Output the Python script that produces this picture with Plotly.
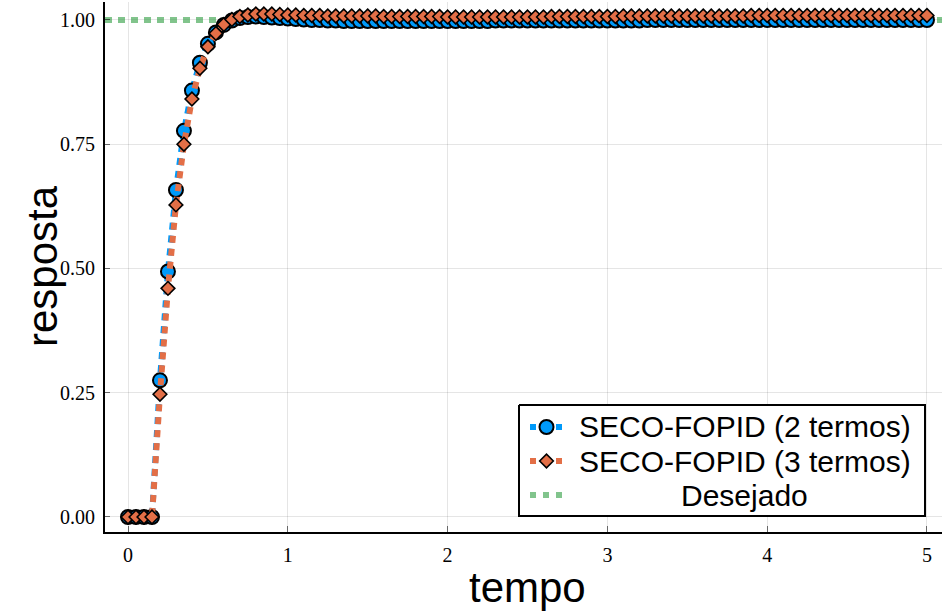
import plotly.graph_objects as go

# Sampling instants (s)
tempo = [
    0.00, 0.05, 0.10, 0.15, 0.20, 0.25, 0.30, 0.35, 0.40, 0.45,
    0.50, 0.55, 0.60, 0.65, 0.70, 0.75, 0.80, 0.85, 0.90, 0.95,
    1.00, 1.05, 1.10, 1.15, 1.20, 1.25, 1.30, 1.35, 1.40, 1.45,
    1.50, 1.55, 1.60, 1.65, 1.70, 1.75, 1.80, 1.85, 1.90, 1.95,
    2.00, 2.05, 2.10, 2.15, 2.20, 2.25, 2.30, 2.35, 2.40, 2.45,
    2.50, 2.55, 2.60, 2.65, 2.70, 2.75, 2.80, 2.85, 2.90, 2.95,
    3.00, 3.05, 3.10, 3.15, 3.20, 3.25, 3.30, 3.35, 3.40, 3.45,
    3.50, 3.55, 3.60, 3.65, 3.70, 3.75, 3.80, 3.85, 3.90, 3.95,
    4.00, 4.05, 4.10, 4.15, 4.20, 4.25, 4.30, 4.35, 4.40, 4.45,
    4.50, 4.55, 4.60, 4.65, 4.70, 4.75, 4.80, 4.85, 4.90, 4.95,
    5.00,
]

# Closed-loop step response, FOPID approximated with 2 terms
resp_2termos = [
    0.000, 0.000, 0.000, 0.000, 0.275, 0.494, 0.658, 0.777, 0.858, 0.914,
    0.952, 0.975, 0.990, 0.999, 1.004, 1.006, 1.007, 1.006, 1.005, 1.004,
    1.003, 1.002, 1.001, 1.000, 1.000, 0.999, 0.999, 0.998, 0.998, 0.998,
    0.998, 0.998, 0.998, 0.998, 0.998, 0.998, 0.998, 0.998, 0.998, 0.998,
    0.998, 0.998, 0.998, 0.998, 0.998, 0.998, 0.999, 0.999, 0.999, 0.999,
    0.999, 0.999, 0.999, 0.999, 0.999, 0.999, 0.999, 0.999, 0.999, 0.999,
    0.999, 0.999, 0.999, 0.999, 0.999, 1.000, 1.000, 1.000, 1.000, 1.000,
    1.000, 1.000, 1.000, 1.000, 1.000, 1.000, 1.000, 1.000, 1.000, 1.000,
    1.000, 1.000, 1.000, 1.000, 1.000, 1.000, 1.000, 1.000, 1.000, 1.000,
    1.000, 1.000, 1.000, 1.000, 1.000, 1.000, 1.000, 1.000, 1.000, 1.000,
    1.000,
]

# Closed-loop step response, FOPID approximated with 3 terms
resp_3termos = [
    0.000, 0.000, 0.000, 0.000, 0.247, 0.460, 0.628, 0.750, 0.841, 0.903,
    0.946, 0.973, 0.991, 1.001, 1.007, 1.010, 1.012, 1.012, 1.012, 1.011,
    1.010, 1.010, 1.009, 1.009, 1.009, 1.008, 1.008, 1.008, 1.008, 1.008,
    1.008, 1.008, 1.007, 1.007, 1.007, 1.007, 1.007, 1.007, 1.007, 1.007,
    1.006, 1.006, 1.006, 1.006, 1.006, 1.006, 1.006, 1.006, 1.006, 1.006,
    1.006, 1.006, 1.006, 1.007, 1.007, 1.007, 1.007, 1.007, 1.007, 1.007,
    1.007, 1.007, 1.008, 1.008, 1.008, 1.008, 1.008, 1.008, 1.008, 1.008,
    1.008, 1.008, 1.008, 1.008, 1.008, 1.008, 1.008, 1.008, 1.009, 1.009,
    1.009, 1.009, 1.009, 1.009, 1.009, 1.009, 1.009, 1.009, 1.009, 1.009,
    1.009, 1.009, 1.009, 1.009, 1.009, 1.009, 1.009, 1.009, 1.009, 1.009,
    1.009,
]

# Set-point
desejado = 1.0

nomes = ["SECO-FOPID (2 termos)", "SECO-FOPID (3 termos)", "Desejado"]
x_ticks = [0, 1, 2, 3, 4, 5]
x_tick_text = ["0", "1", "2", "3", "4", "5"]
y_ticks = [0.0, 0.25, 0.5, 0.75, 1.0]
y_tick_text = ["0.00", "0.25", "0.50", "0.75", "1.00"]

AZUL = "#009AFA"
LARANJA = "#E36F47"
VERDE = "rgba(62,164,78,0.65)"
PONTILHADO = "7px,6px"
SANS = "Liberation Sans, Arial, sans-serif"
SERIF = "Liberation Serif, Times New Roman, serif"

MARCA_CIRCULO = dict(symbol="circle", size=14, color=AZUL,
                     line=dict(color="black", width=2))
MARCA_LOSANGO = dict(symbol="diamond", size=10.5, color=LARANJA,
                     line=dict(color="black", width=1.6))

W, H = 942, 612
ML, MR, MT, MB = 105, 0, 2, 80
PW, PH = W - ML - MR, H - MT - MB
X_RANGE = [-0.144, 5.094]
Y_RANGE = [-0.0302, 1.0362]


def px_x(p):
    return (p - ML) / PW


def px_y(p):
    return (H - MB - p) / PH


fig = go.Figure()

# Set-point reference spanning the whole horizontal axis
fig.add_trace(go.Scatter(
    x=X_RANGE, y=[desejado, desejado], mode="lines", name=nomes[2],
    line=dict(color=VERDE, width=6, dash=PONTILHADO), showlegend=False,
))
fig.add_trace(go.Scatter(
    x=tempo, y=resp_2termos, mode="lines+markers", name=nomes[0],
    line=dict(color=AZUL, width=6, dash=PONTILHADO),
    marker=MARCA_CIRCULO, showlegend=False,
))
fig.add_trace(go.Scatter(
    x=tempo, y=resp_3termos, mode="lines+markers", name=nomes[1],
    line=dict(color=LARANJA, width=6, dash=PONTILHADO),
    marker=MARCA_LOSANGO, showlegend=False,
))

# Legend, drawn on an overlay axis measured in pixels
LX0, LX1, LY0, LY1 = 519, 925, 405, 516
linhas = [427, 461, 495]
fig.add_trace(go.Scatter(
    x=[LX0, LX1, LX1, LX0, LX0], y=[LY0, LY0, LY1, LY1, LY0],
    mode="lines", fill="toself", fillcolor="white",
    line=dict(color="black", width=2), xaxis="x2", yaxis="y2",
    showlegend=False, hoverinfo="skip",
))
amostras = [(AZUL, MARCA_CIRCULO), (LARANJA, MARCA_LOSANGO), (VERDE, None)]
for (cor, mk), yl in zip(amostras, linhas):
    fig.add_trace(go.Scatter(
        x=[530, 563], y=[yl, yl], mode="lines", xaxis="x2", yaxis="y2",
        line=dict(color=cor, width=6, dash="6px,7px"), showlegend=False,
        hoverinfo="skip",
    ))
    if mk is not None:
        fig.add_trace(go.Scatter(
            x=[546.5], y=[yl], mode="markers", xaxis="x2", yaxis="y2",
            marker=mk, showlegend=False, hoverinfo="skip",
        ))

annotations = []
for i, (nome, yl) in enumerate(zip(nomes, linhas)):
    if i < 2:
        annotations.append(dict(
            x=px_x(577), y=px_y(yl), xref="paper", yref="paper", text=nome,
            showarrow=False, xanchor="left", yanchor="middle",
            font=dict(family=SANS, size=30, color="black"),
        ))
    else:
        annotations.append(dict(
            x=px_x(744), y=px_y(yl), xref="paper", yref="paper", text=nome,
            showarrow=False, xanchor="center", yanchor="middle",
            font=dict(family=SANS, size=30, color="black"),
        ))

# Axis titles
annotations.append(dict(
    x=px_x(527), y=px_y(587), xref="paper", yref="paper", text="tempo",
    showarrow=False, xanchor="center", yanchor="middle",
    font=dict(family=SANS, size=42, color="black"),
))
annotations.append(dict(
    x=px_x(42), y=px_y(266), xref="paper", yref="paper", text="resposta",
    showarrow=False, xanchor="center", yanchor="middle", textangle=-90,
    font=dict(family=SANS, size=42, color="black"),
))

fig.update_layout(
    width=W, height=H,
    margin=dict(l=ML, r=MR, t=MT, b=MB, pad=0),
    paper_bgcolor="white", plot_bgcolor="white",
    showlegend=False,
    annotations=annotations,
    xaxis=dict(
        range=X_RANGE, tickvals=x_ticks, ticktext=x_tick_text,
        showgrid=True, gridcolor="rgba(0,0,0,0.1)", gridwidth=1,
        zeroline=False, showline=True, linecolor="black", linewidth=2,
        ticks="inside", ticklen=6, tickcolor="rgba(0,0,0,0.55)", tickwidth=1,
        tickfont=dict(family=SERIF, size=20, color="black"),
        ticklabelstandoff=4, fixedrange=True,
    ),
    yaxis=dict(
        range=Y_RANGE, tickvals=y_ticks, ticktext=y_tick_text,
        showgrid=True, gridcolor="rgba(0,0,0,0.1)", gridwidth=1,
        zeroline=False, showline=True, linecolor="black", linewidth=2,
        ticks="inside", ticklen=5, tickcolor="rgba(0,0,0,0.55)", tickwidth=1,
        tickfont=dict(family=SERIF, size=20, color="black"),
        ticklabelstandoff=4, fixedrange=True,
    ),
    xaxis2=dict(range=[ML, W - MR], overlaying="x", visible=False, fixedrange=True),
    yaxis2=dict(range=[H - MB, MT], overlaying="y", visible=False, fixedrange=True),
)

fig.write_html("out.html")
